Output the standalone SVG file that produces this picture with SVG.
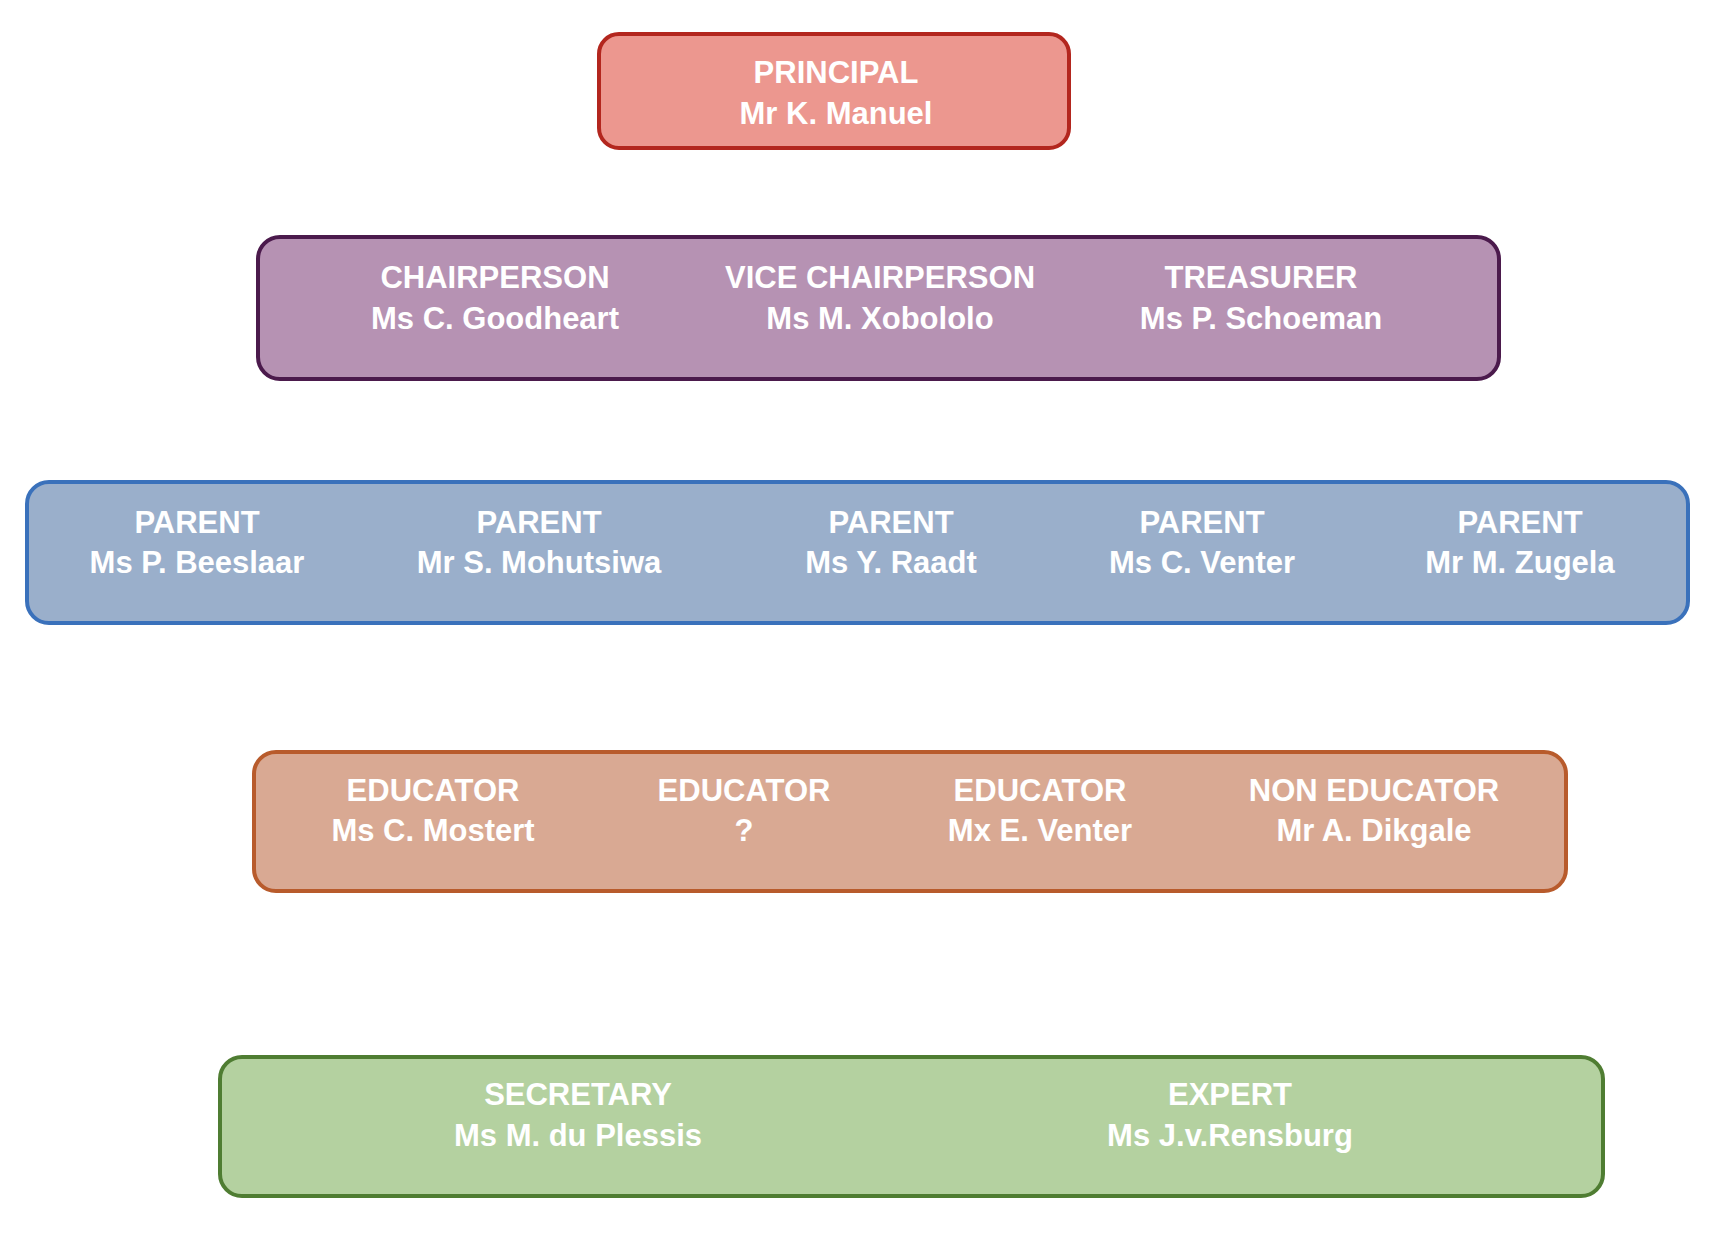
<svg xmlns="http://www.w3.org/2000/svg" width="1730" height="1258" viewBox="0 0 1730 1258">
<style>
text{font-family:"Liberation Sans",Arial,sans-serif;font-weight:bold;font-size:31px;fill:#ffffff;text-anchor:middle}
rect{stroke-width:4}
.red{fill:#EC978F;stroke:#B3261E}
.pur{fill:#B692B3;stroke:#4B1A4C}
.blu{fill:#9AAFCB;stroke:#3A71BB}
.org{fill:#D9A993;stroke:#B85B2C}
.grn{fill:#B4D1A0;stroke:#4F7D32}
</style>
<rect width="1730" height="1258" fill="#ffffff" stroke="none"/>
<g id="connectors"></g>
<g id="principal">
<rect class="red" x="599" y="34" width="470" height="114" rx="20"/>
<text x="836" y="83">PRINCIPAL</text>
<text x="836" y="124">Mr K. Manuel</text>
</g>
<g id="officers">
<rect class="pur" x="258" y="237" width="1241" height="142" rx="22"/>
<text x="495" y="288">CHAIRPERSON</text>
<text x="495" y="329">Ms C. Goodheart</text>
<text x="880" y="288">VICE CHAIRPERSON</text>
<text x="880" y="329">Ms M. Xobololo</text>
<text x="1261" y="288">TREASURER</text>
<text x="1261" y="329">Ms P. Schoeman</text>
</g>
<g id="parents">
<rect class="blu" x="27" y="482" width="1661" height="141" rx="22"/>
<text x="197" y="533">PARENT</text>
<text x="197" y="573">Ms P. Beeslaar</text>
<text x="539" y="533">PARENT</text>
<text x="539" y="573">Mr S. Mohutsiwa</text>
<text x="891" y="533">PARENT</text>
<text x="891" y="573">Ms Y. Raadt</text>
<text x="1202" y="533">PARENT</text>
<text x="1202" y="573">Ms C. Venter</text>
<text x="1520" y="533">PARENT</text>
<text x="1520" y="573">Mr M. Zugela</text>
</g>
<g id="educators">
<rect class="org" x="254" y="752" width="1312" height="139" rx="22"/>
<text x="433" y="801">EDUCATOR</text>
<text x="433" y="841">Ms C. Mostert</text>
<text x="744" y="801">EDUCATOR</text>
<text x="744" y="841">?</text>
<text x="1040" y="801">EDUCATOR</text>
<text x="1040" y="841">Mx E. Venter</text>
<text x="1374" y="801">NON EDUCATOR</text>
<text x="1374" y="841">Mr A. Dikgale</text>
</g>
<g id="support">
<rect class="grn" x="220" y="1057" width="1383" height="139" rx="22"/>
<text x="578" y="1105">SECRETARY</text>
<text x="578" y="1146">Ms M. du Plessis</text>
<text x="1230" y="1105">EXPERT</text>
<text x="1230" y="1146">Ms J.v.Rensburg</text>
</g>
</svg>
